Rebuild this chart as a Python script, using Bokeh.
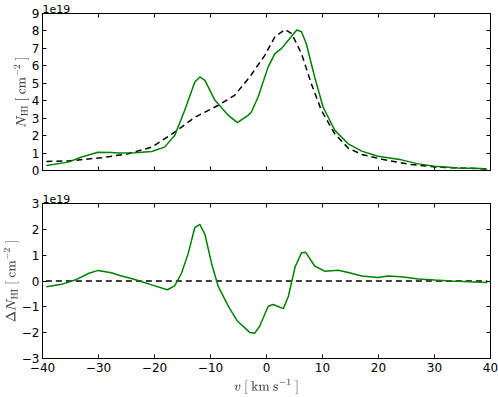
from bokeh.plotting import figure
from bokeh.layouts import column
from bokeh.models import LinearAxis, FixedTicker, Range1d, TeX
from bokeh.embed import file_html
from bokeh.resources import INLINE

# ---- data (column densities in units of 1e19 cm^-2) ----
v_obs = [-39.3, -35.4, -33.0, -30.1, -27.7, -26.5, -23.5, -20.5, -18.2, -16.4, -14.6,
         -12.8, -11.9, -11.0, -9.2, -6.8, -5.2, -3.3, -2.7, -1.5, 0.3, 1.5, 2.7, 3.9,
         5.4, 6.25, 7.1, 8.6, 10.1, 12.2, 14.6, 17.0, 19.9, 24.1, 27.1, 30.0, 34.2,
         38.4, 39.4]
n_obs = [0.29, 0.48, 0.77, 1.05, 1.03, 1.0, 1.02, 1.09, 1.34, 2.0, 3.45,
         5.07, 5.36, 5.17, 4.02, 3.16, 2.74, 3.16, 3.35, 4.21, 5.94, 6.7, 7.0, 7.47,
         8.05, 7.95, 7.28, 5.36, 3.64, 2.30, 1.53, 1.11, 0.82, 0.61, 0.38, 0.25, 0.15,
         0.11, 0.03]

v_model = [-39.3, -35.4, -29.5, -24.7, -20.5, -16.4, -12.8, -8.6, -5.7, -3.0, -0.3,
           1.5, 3.3, 4.5, 6.25, 8.0, 9.8, 12.2, 14.6, 17.0, 21.1, 25.9, 30.6, 38.4, 39.4]
n_model = [0.52, 0.55, 0.73, 0.96, 1.34, 2.2, 3.05, 3.74, 4.31, 5.36, 6.6,
           7.66, 8.08, 7.85, 6.7, 4.98, 3.45, 2.1, 1.28, 0.92, 0.61, 0.34, 0.19, 0.1, 0.08]

v_diff = [-39.3, -36.6, -33.9, -31.8, -30.1, -27.7, -26.5, -23.5, -20.5, -17.7, -16.4,
          -15.2, -14.0, -12.8, -11.9, -11.0, -9.8, -8.6, -6.8, -5.2, -3.0, -2.1, -1.2,
          0.3, 1.2, 3.0, 3.9, 5.1, 6.25, 7.0, 8.6, 10.4, 12.8, 14.6, 17.0, 19.9, 21.7,
          24.1, 27.1, 30.0, 33.0, 39.4]
n_diff = [-0.22, -0.13, 0.06, 0.29, 0.41, 0.32, 0.23, 0.06, -0.15, -0.34, -0.19,
          0.29, 1.05, 2.07, 2.19, 1.81, 0.67, -0.22, -0.98, -1.55, -1.99, -2.02, -1.74,
          -0.98, -0.91, -1.07, -0.6, 0.54, 1.09, 1.11, 0.58, 0.38, 0.42, 0.33, 0.19, 0.14,
          0.19, 0.16, 0.08, 0.04, 0.0, -0.06]

v_zero = [-39.4, 39.4]
n_zero = [0.0, 0.0]

x_ticks = [-40, -30, -20, -10, 0, 10, 20, 30, 40]
top_ticks = [0, 1, 2, 3, 4, 5, 6, 7, 8, 9]
bot_ticks = [-3, -2, -1, 0, 1, 2, 3]
scale_text = "1e19"

GREEN = "#008000"
FONT = "DejaVu Sans"
FS = "12px"


def lab(t):
    return str(t).replace("-", "\u2212")


def style_axis(ax, ticks, show_labels):
    ax.ticker = FixedTicker(ticks=ticks)
    ax.major_tick_in = 4
    ax.major_tick_out = 0
    ax.minor_tick_in = 0
    ax.minor_tick_out = 0
    ax.axis_line_color = "black"
    ax.major_tick_line_color = "black"
    ax.major_label_text_font = FONT
    ax.major_label_text_color = "black"
    ax.major_label_text_font_size = FS
    if show_labels:
        ax.major_label_overrides = {t: lab(t) for t in ticks}
        ax.major_label_standoff = 4
    else:
        ax.major_label_overrides = {t: "" for t in ticks}
        ax.major_label_standoff = 0


def make_fig(yr, yticks, height, border_top, border_bottom, show_x):
    p = figure(width=498, height=height,
               x_range=Range1d(-40, 40), y_range=Range1d(*yr),
               output_backend="svg", toolbar_location=None,
               x_axis_location=None, y_axis_location=None,
               min_border_left=41, min_border_right=8,
               min_border_top=border_top, min_border_bottom=border_bottom)
    p.xgrid.visible = False
    p.ygrid.visible = False
    p.outline_line_color = "black"
    p.outline_line_width = 1
    p.background_fill_color = "white"
    p.border_fill_color = "white"
    p.title.text = scale_text
    p.title.align = "left"
    p.title.offset = 0
    p.title.standoff = 2
    p.title.text_font = FONT
    p.title.text_font_size = "11px"
    p.title.text_font_style = "normal"
    p.title.text_color = "black"
    left = LinearAxis()
    right = LinearAxis()
    above = LinearAxis()
    below = LinearAxis()
    p.add_layout(left, "left")
    p.add_layout(right, "right")
    p.add_layout(above, "above")
    p.add_layout(below, "below")
    style_axis(left, yticks, True)
    style_axis(right, yticks, False)
    style_axis(above, x_ticks, False)
    style_axis(below, x_ticks, show_x)
    left.major_label_standoff = 3
    left.axis_label_standoff = 0
    left.axis_label_text_font_size = "11px"
    return p, left, below


p1, l1, b1 = make_fig((0, 9), top_ticks, 180, 13, 10, False)
l1.axis_label = TeX(r"N_{\rm HI}\ [\ {\rm cm}^{-2}\ ]")
p1.line(v_model, n_model, line_color="black", line_width=1.5, line_dash="6 4")
p1.line(v_obs, n_obs, line_color=GREEN, line_width=1.5)

p2, l2, b2 = make_fig((-3, 3), bot_ticks, 217, 23, 37, True)
b2.axis_label = TeX(r"v\ [\ {\rm km\ s}^{-1}\ ]")
b2.axis_label_text_font_size = "11px"
b2.axis_label_standoff = 4
l2.axis_label = TeX(r"\Delta N_{\rm HI}\ [\ {\rm cm}^{-2}\ ]")
p2.line(v_zero, n_zero, line_color="black", line_width=1.5, line_dash="6 4")
p2.line(v_diff, n_diff, line_color=GREEN, line_width=1.5)

layout = column(p1, p2, spacing=0)
open("out.html", "w").write(file_html(layout, INLINE))
